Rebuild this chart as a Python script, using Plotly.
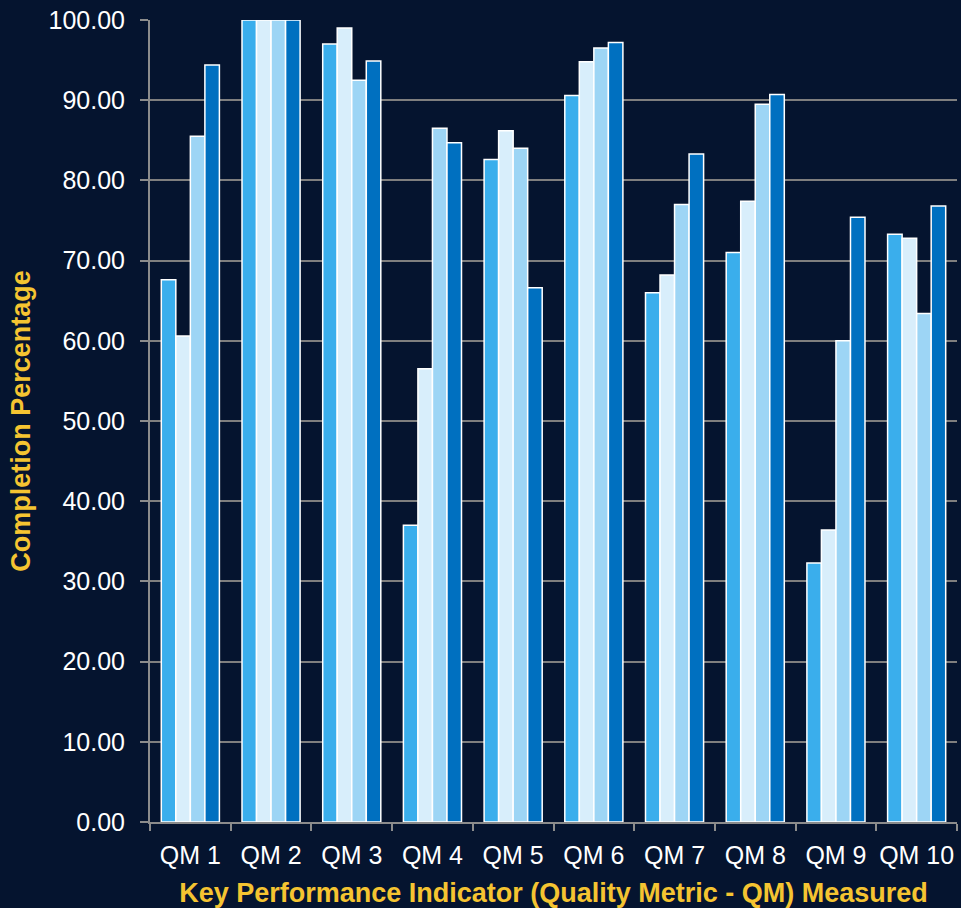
import plotly.graph_objects as go

categories = ["QM 1", "QM 2", "QM 3", "QM 4", "QM 5", "QM 6", "QM 7", "QM 8", "QM 9", "QM 10"]
series_a = [67.6, 100.0, 97.0, 37.0, 82.6, 90.6, 66.0, 71.0, 32.3, 73.3]
series_b = [60.6, 100.0, 99.0, 56.5, 86.2, 94.8, 68.2, 77.4, 36.4, 72.8]
series_c = [85.5, 100.0, 92.5, 86.5, 84.0, 96.5, 77.0, 89.5, 60.0, 63.4]
series_d = [94.4, 100.0, 94.9, 84.7, 66.6, 97.2, 83.3, 90.7, 75.4, 76.8]
series_names = ["Series 1", "Series 2", "Series 3", "Series 4"]
colors = ["#3aaeec", "#d8eefb", "#9dd5f5", "#0070c0"]
y_ticks = [0, 10, 20, 30, 40, 50, 60, 70, 80, 90, 100]

fig = go.Figure()
for name, vals, col in zip(series_names, [series_a, series_b, series_c, series_d], colors):
    fig.add_trace(go.Bar(
        x=categories, y=vals, name=name,
        marker=dict(color=col, line=dict(color="#ffffff", width=1.5)),
    ))

font_family = "Liberation Sans, Arial, sans-serif"
fig.update_layout(
    width=961, height=908,
    barmode="group", bargap=0.28, bargroupgap=0.0,
    paper_bgcolor="#05142f", plot_bgcolor="rgba(0,0,0,0)",
    margin=dict(l=150, r=4, t=20, b=86),
    showlegend=False,
    font=dict(family=font_family, color="#ffffff", size=25),
    xaxis=dict(
        automargin=False, tickangle=0,
        showgrid=False, showline=True, linecolor="#8c8c8c", linewidth=2,
        ticks="outside", ticklen=7, tickcolor="#8c8c8c", tickwidth=2,
        tickson="boundaries",
        ticklabelstandoff=10,
        tickfont=dict(size=25, color="#ffffff"),
        title=dict(text="Key Performance Indicator (Quality Metric - QM) Measured",
                   font=dict(size=27, color="#f5c431", family=font_family, weight="bold"),
                   standoff=21),
    ),
    yaxis=dict(
        automargin=False,
        range=[0, 100], tickvals=y_ticks, tickformat=".2f",
        showgrid=True, gridcolor="#7f7f7f", gridwidth=2,
        showline=True, linecolor="#8c8c8c", linewidth=2,
        ticks="outside", ticklen=8, tickcolor="#8c8c8c", tickwidth=2,
        ticklabelstandoff=10,
        tickfont=dict(size=25, color="#ffffff"),
        zeroline=False,
        title=dict(text="Completion Percentage",
                   font=dict(size=27, color="#f5c431", family=font_family, weight="bold"),
                   standoff=10),
    ),
)

fig.write_html("out.html", config={"displayModeBar": False})
with open("out.html", "r", encoding="utf-8") as f:
    html = f.read()
html = html.replace("<head>", "<head><style>html,body{margin:0;padding:0;background:#05142f;overflow:hidden;}</style>", 1)
with open("out.html", "w", encoding="utf-8") as f:
    f.write(html)
